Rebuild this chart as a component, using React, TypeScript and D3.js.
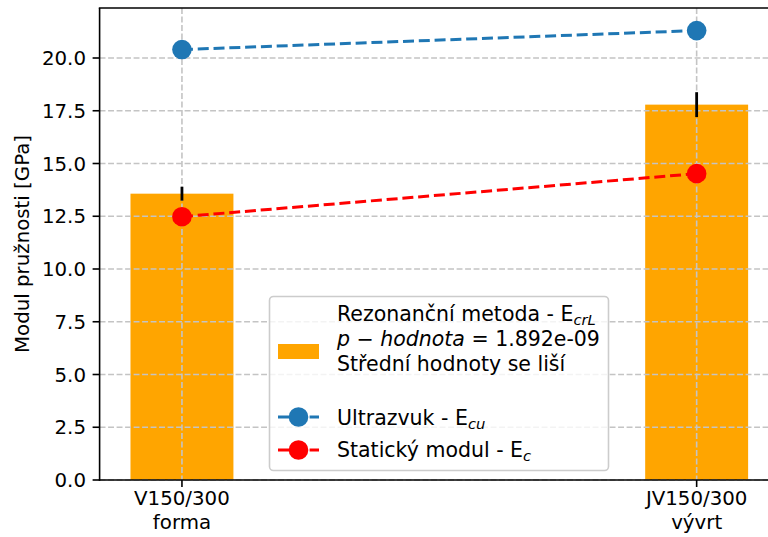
import React from "react";
import * as d3 from "d3";

const categories = ["V150/300\nforma", "JV150/300\nvývrt"];
const barValues = [13.57, 17.79];
const barErrors = [0.33, 0.59];
const ultraValues = [20.4, 21.3];
const staticValues = [12.48, 14.52];
const yTicks = [0, 2.5, 5, 7.5, 10, 12.5, 15, 17.5, 20];

const W = 768;
const H = 537;
const FONT = "DejaVu Sans, sans-serif";
const FS = 19.8;
const LFS = 20.5;

export default function App() {
  const x = d3.scaleLinear().domain([-0.16, 1.16]).range([99.6, 779]);
  const y = d3.scaleLinear().domain([0, 22.37]).range([480, 8]);
  const bw = x(0.1) - x(-0.1);
  const line = d3
    .line<number>()
    .x((_, i) => x(i))
    .y((d) => y(d));
  const gridStyle = { stroke: "#c4c4c4", strokeWidth: 1.6, strokeDasharray: "5.9 2.6" };
  const left = x.range()[0];
  const right = x.range()[1];

  return (
    <div style={{ position: "fixed", left: 0, top: 0 }}>
      <svg width={W} height={H} style={{ display: "block", background: "#fff" }} fontFamily={FONT}>
        <rect x={0} y={0} width={W} height={H} fill="#fff" />
        {/* bars */}
        {barValues.map((v, i) => (
          <rect key={"b" + i} x={x(i) - bw / 2} y={y(v)} width={bw} height={y(0) - y(v)} fill="#ffa500" />
        ))}
        {/* grid */}
        {yTicks.map((t) => (
          <line key={"gy" + t} x1={left} x2={right} y1={y(t)} y2={y(t)} {...gridStyle} />
        ))}
        {categories.map((_, i) => (
          <line key={"gx" + i} x1={x(i)} x2={x(i)} y1={y.range()[1]} y2={y(0)} {...gridStyle} />
        ))}
        {/* error bars */}
        {barValues.map((v, i) => (
          <line key={"e" + i} x1={x(i)} x2={x(i)} y1={y(v - barErrors[i])} y2={y(v + barErrors[i])} stroke="#000" strokeWidth={2.8} />
        ))}
        {/* lines */}
        <path d={line(ultraValues) || ""} fill="none" stroke="#1f77b4" strokeWidth={3} strokeDasharray="11 4.8" />
        <path d={line(staticValues) || ""} fill="none" stroke="#ff0000" strokeWidth={3} strokeDasharray="11 4.8" />
        {ultraValues.map((v, i) => (
          <circle key={"u" + i} cx={x(i)} cy={y(v)} r={9.8} fill="#1f77b4" />
        ))}
        {staticValues.map((v, i) => (
          <circle key={"s" + i} cx={x(i)} cy={y(v)} r={9.8} fill="#ff0000" />
        ))}
        {/* spines */}
        <line x1={left} x2={left} y1={y.range()[1]} y2={y(0) + 0.8} stroke="#000" strokeWidth={1.6} />
        <line x1={left - 0.8} x2={right} y1={y(0)} y2={y(0)} stroke="#000" strokeWidth={1.6} />
        <line x1={left - 0.8} x2={right} y1={y.range()[1]} y2={y.range()[1]} stroke="#000" strokeWidth={1.6} />
        {/* y ticks */}
        {yTicks.map((t) => (
          <g key={"ty" + t}>
            <line x1={left - 7} x2={left} y1={y(t)} y2={y(t)} stroke="#000" strokeWidth={1.6} />
            <text x={86} y={y(t) + 7.2} textAnchor="end" fontSize={FS} fill="#000">
              {d3.format(".1f")(t)}
            </text>
          </g>
        ))}
        {/* x ticks */}
        {categories.map((c, i) => (
          <g key={"tx" + i}>
            <line x1={x(i)} x2={x(i)} y1={y(0)} y2={y(0) + 7} stroke="#000" strokeWidth={1.6} />
            {c.split("\n").map((s, j) => (
              <text key={j} x={x(i)} y={505 + j * 24} textAnchor="middle" fontSize={FS} fill="#000">
                {s}
              </text>
            ))}
          </g>
        ))}
        {/* y label */}
        <text transform={`translate(29, ${(y(0) + y.range()[1]) / 2}) rotate(-90)`} textAnchor="middle" fontSize={FS} fill="#000">
          Modul pružnosti [GPa]
        </text>
        {/* legend */}
        <g>
          <rect x={269.5} y={296.5} width={339} height={174} rx={4} fill="#fff" fillOpacity={0.8} stroke="#cccccc" strokeWidth={1.6} />
          <rect x={278} y={344} width={41} height={15} fill="#ffa500" />
          <text x={337} y={321} fontSize={LFS} fill="#000">
            Rezonanční metoda - E
            <tspan fontSize={LFS * 0.72} fontStyle="italic" dy={4}>crL</tspan>
          </text>
          <text x={337} y={346} fontSize={LFS} fill="#000">
            <tspan fontStyle="italic">p</tspan>
            <tspan> − </tspan>
            <tspan fontStyle="italic">hodnota</tspan>
            <tspan> = 1.892e-09</tspan>
          </text>
          <text x={337} y={371} fontSize={LFS} fill="#000">
            Střední hodnoty se liší
          </text>
          <line x1={278} x2={319} y1={417} y2={417} stroke="#1f77b4" strokeWidth={3} strokeDasharray="11 4.8" />
          <circle cx={298.5} cy={417} r={9.8} fill="#1f77b4" />
          <text x={337} y={425} fontSize={LFS} fill="#000">
            Ultrazvuk - E
            <tspan fontSize={LFS * 0.72} fontStyle="italic" dy={4}>cu</tspan>
          </text>
          <line x1={278} x2={319} y1={450} y2={450} stroke="#ff0000" strokeWidth={3} strokeDasharray="11 4.8" />
          <circle cx={298.5} cy={450} r={9.8} fill="#ff0000" />
          <text x={337} y={457} fontSize={LFS} fill="#000">
            Statický modul - E
            <tspan fontSize={LFS * 0.72} fontStyle="italic" dy={4}>c</tspan>
          </text>
        </g>
      </svg>
    </div>
  );
}
